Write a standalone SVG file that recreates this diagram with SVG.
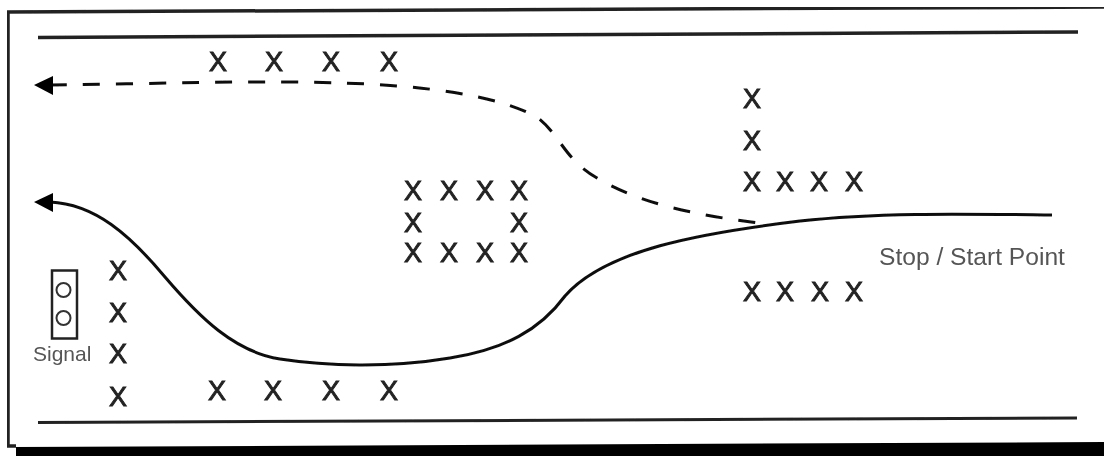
<svg xmlns="http://www.w3.org/2000/svg" width="1104" height="456" viewBox="0 0 1104 456">
<defs><filter id="scan" x="0" y="0" width="100%" height="100%"><feGaussianBlur stdDeviation="0.6"/></filter></defs>
<style>
.x{font-family:"Liberation Sans",Arial,sans-serif;font-size:27px;fill:#222;stroke:#222;stroke-width:.9;text-anchor:middle}
.l{font-family:"Liberation Sans",Arial,sans-serif;fill:#555}
.c{fill:none;stroke:#111;stroke-width:3}
.r{fill:none;stroke:#222;stroke-width:3.500}
</style>
<rect width="1104" height="456" fill="#fff"/>
<g filter="url(#scan)">
<path d="M7 12L1104 7" class="r"/>
<path d="M8 12V446H16" class="r"/>
<polygon points="16,447 1104,442 1104,456 16,456" fill="#000"/>
<g id="road">
<path d="M38 37.500L1078 32" stroke="#222" stroke-width="3.500" fill="none"/>
<path d="M38 422.500L1077 418" stroke="#222" stroke-width="3" fill="none"/>
</g>
<g id="connectors">
<path class="c" d="M50 202C95 204 130 235 165 277C200 318 235 352 280 359C325 366 390 368 450 358C505 349 540 330 565 296C605 250 700 233 800 221C880 212 970 214 1052 215"/>
<polygon points="34,202 53,193 53,212" fill="#000"/>
<path class="c" stroke-dasharray="17 16" d="M50 85C150 84 260 80 340 83C420 85 500 95 538 118C560 135 565 160 597 178C640 204 700 216 760 223"/>
<polygon points="34,85 53,76 53,95" fill="#000"/>
</g>
<g id="signal">
<rect x="52" y="270.500" width="25" height="68" fill="none" stroke="#222" stroke-width="2.500"/>
<circle cx="63.500" cy="290" r="7" fill="none" stroke="#333" stroke-width="2"/>
<circle cx="63.500" cy="318" r="7" fill="none" stroke="#333" stroke-width="2"/>
<text class="l" x="33" y="361" font-size="21">Signal</text>
</g>
<g id="stop-start"><text class="l" x="879" y="265" font-size="24.600">Stop / Start Point</text></g>
<g id="marks-top"><text class="x" x="218" y="71">X</text><text class="x" x="274" y="71">X</text><text class="x" x="331" y="71">X</text><text class="x" x="389" y="71">X</text></g>
<g id="marks-right">
<text class="x" x="752" y="108">X</text><text class="x" x="752" y="150">X</text>
<text class="x" x="752" y="191">X</text><text class="x" x="785" y="191">X</text><text class="x" x="819" y="191">X</text><text class="x" x="854" y="191">X</text>
<text class="x" x="752" y="301">X</text><text class="x" x="785" y="301">X</text><text class="x" x="820" y="301">X</text><text class="x" x="854" y="301">X</text>
</g>
<g id="marks-centre">
<text class="x" x="413" y="200">X</text><text class="x" x="449" y="200">X</text><text class="x" x="485" y="200">X</text><text class="x" x="519" y="200">X</text>
<text class="x" x="413" y="232">X</text><text class="x" x="519" y="232">X</text>
<text class="x" x="413" y="262">X</text><text class="x" x="449" y="262">X</text><text class="x" x="485" y="262">X</text><text class="x" x="519" y="262">X</text>
</g>
<g id="marks-left">
<text class="x" x="118" y="280">X</text><text class="x" x="118" y="322">X</text><text class="x" x="118" y="363">X</text><text class="x" x="118" y="406">X</text>
</g>
<g id="marks-bottom"><text class="x" x="217" y="400">X</text><text class="x" x="273" y="400">X</text><text class="x" x="331" y="400">X</text><text class="x" x="389" y="400">X</text></g>
</g>
</svg>
